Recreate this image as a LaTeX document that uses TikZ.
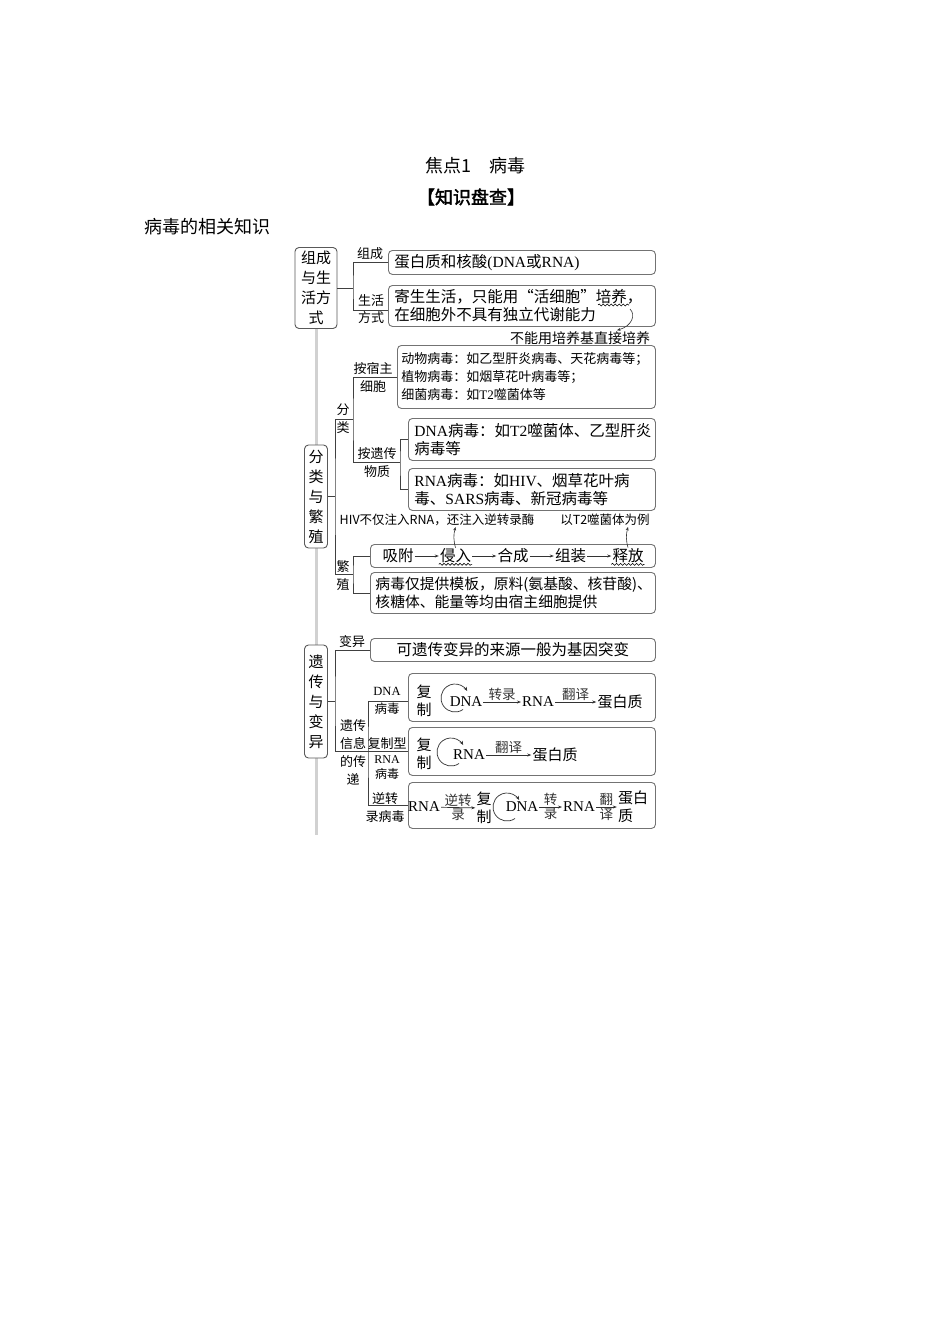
\documentclass[tikz,border=0pt]{standalone}
\usepackage{fontspec}
\newfontfamily\cjk[AutoFakeBold=2]{Noto Sans CJK SC}
\newfontfamily\engfont{Liberation Serif}
\newcommand{\eng}[1]{{\engfont #1}}
\usetikzlibrary{arrows.meta,calc,decorations.pathmorphing}
\tikzstyle{headtxt}=[inner sep=1pt,font=\cjk\fontsize{18}{20}\selectfont]
\tikzstyle{mainbox}=[draw=black!65,fill=white,rounded corners=4pt,line width=0.9pt,inner sep=2pt,align=center,font=\cjk\fontsize{15}{20}\selectfont]
\tikzstyle{infobox}=[draw=black!55,fill=white,rounded corners=4pt,line width=0.9pt,anchor=north west,inner xsep=6pt,inner ysep=0pt,align=left,font=\cjk\fontsize{15.5}{18}\selectfont]
\tikzstyle{tag}=[inner sep=0pt,align=center,font=\cjk\fontsize{13}{18}\selectfont]
\tikzstyle{link}=[draw,black!75,line width=0.9pt]
\tikzstyle{spine}=[draw,black!18,line width=3pt]
\tikzstyle{note}=[inner sep=1pt,font=\cjk\fontsize{12.5}{14}\selectfont]
\tikzstyle{notearrow}=[draw,black!80,line width=0.6pt,-{Stealth[length=3.5pt,width=3pt]}]
\tikzstyle{steptxt}=[inner sep=1pt,font=\cjk\fontsize{15.5}{18}\selectfont]
\tikzstyle{flowtxt}=[inner sep=1pt,align=center,font=\cjk\fontsize{15}{18}\selectfont]
\tikzstyle{flowlabel}=[inner sep=1pt,font=\cjk\fontsize{13.5}{14}\selectfont]
\tikzstyle{flowarrow}=[draw,black!80,line width=0.7pt,-{Stealth[length=4pt,width=3pt]}]
\tikzstyle{cyclearrow}=[draw,black!80,line width=0.7pt,-{Stealth[length=4pt,width=3.5pt]}]
\tikzstyle{wavy}=[draw,line width=0.6pt,decorate,decoration={snake,amplitude=1pt,segment length=4pt}]

\begin{document}
\begin{tikzpicture}[x=1pt,y=1pt]

  \path[fill=white] (0,0) rectangle (950,-1344);
  \useasboundingbox (0,0) rectangle (950,-1344);

  % headings
  \node[headtxt] (title) at (475,-166) {焦点1\hspace{1em}病毒};
  \node[headtxt,font=\cjk\bfseries\fontsize{18}{20}\selectfont] (sub) at (471,-197) {【知识盘查】};
  \node[headtxt,anchor=west] (topic) at (143,-227) {病毒的相关知识};

  % grey spine behind the main boxes
  \draw[spine] (316,-329) -- (316,-835);

  \foreach \pos/\name/\w/\h/\label in {{(316,-288)/m1/42pt/81pt/组成\\与生\\活方\\式}, {(316,-496.5)/m2/23pt/103pt/分\\类\\与\\繁\\殖}, {(316,-701.5)/m3/23pt/113pt/遗\\传\\与\\变\\异}}
    \node[mainbox,minimum width=\w,minimum height=\h] (\name) at \pos {\label};

  \foreach \pos/\name/\w/\h/\txt in {{(388,-250)/b1/255pt/24pt/{蛋白质和核酸\eng{(DNA}或\eng{RNA)}}}, {(388,-285)/b2/255pt/41pt/{寄生生活，只能用“活细胞”培养，\\在细胞外不具有独立代谢能力}}, {(408,-418)/b4/235pt/42pt/{\eng{DNA}病毒：如\eng{T2}噬菌体、乙型肝炎\\病毒等}}, {(408,-468)/b5/235pt/42pt/{\eng{RNA}病毒：如\eng{HIV}、烟草花叶病\\毒、\eng{SARS}病毒、新冠病毒等}}}
    \node[infobox,text width=\w,minimum height=\h] (\name) at \pos {\txt};

  \node[infobox,text width=250pt,inner xsep=4pt,minimum height=63pt,font=\cjk\fontsize{13}{18}\selectfont] (b3) at (397,-345) {动物病毒：如乙型肝炎病毒、天花病毒等；\\植物病毒：如烟草花叶病毒等；\\细菌病毒：如\eng{T2}噬菌体等};
  \node[infobox,text width=275pt,inner xsep=5pt,minimum height=41pt,font=\cjk\fontsize{14.8}{18}\selectfont] (b7) at (370,-572) {病毒仅提供模板，原料(氨基酸、核苷酸)、\\核糖体、能量等均由宿主细胞提供};
  \node[infobox,text width=273pt,minimum height=23pt] (b6) at (370,-544) {};
  \node[infobox,text width=273pt,minimum height=23pt,align=center] (b8) at (370,-638) {可遗传变异的来源一般为基因突变};
  \node[infobox,text width=235pt,minimum height=48pt] (b9) at (408,-673) {};
  \node[infobox,text width=235pt,minimum height=48pt] (b10) at (408,-727) {};
  \node[infobox,text width=235pt,minimum height=46pt] (b11) at (408,-782) {};

  % branch labels
  \foreach \pos/\name/\label in {{(370,-254)/tzc/组成}, {(371,-309)/tsh/生活\\[-1pt]方式}, {(343,-419)/tfl/分\\类}, {(373,-377.5)/tsz/按宿主\\细胞}, {(377,-462.5)/tyc/按遗传\\物质}, {(343,-576)/tfz/繁\\殖}, {(352,-642)/tby/变异}, {(353,-752)/tyx/遗传\\信息\\的传\\递}, {(387,-744)/tfzx/复制型}, {(385,-808)/tnz/逆转\\录病毒}}
    \node[tag] (\name) at \pos {\label};
  \node[tag,font=\cjk\fontsize{12.5}{18}\selectfont] (tdna) at (387,-701) {\eng{DNA}\\病毒};
  \node[tag,font=\cjk\fontsize{12}{15}\selectfont] (trna) at (387,-767.5) {\eng{RNA}\\病毒};

  % tree connectors
  \coordinate (k1) at (353,-288);
  \coordinate (k2) at (335,-496.5);
  \coordinate (c1) at (353,-419);
  \coordinate (c2) at (353,-574);
  \coordinate (c3) at (400,-462.5);
  \coordinate (k3) at (335,-701.5);
  \coordinate (c4) at (368,-751);

  \path[link] (m1.east) -- (k1);
  \path[link] (b1.west) -| (k1) |- ([yshift=-4pt]b2.west);
  \path[link] (m2.east) -- (k2);
  \path[link] (c1) -| (k2) |- (c2);
  \path[link] (b3.west) -| (c1) |- (c3);
  \path[link] (b4.west) -| (c3) |- (b5.west);
  \path[link] (b6.west) -| (c2) |- (b7.west);
  \path[link] (m3.east) -- (k3);
  \path[link] (b8.west) -| (k3) |- (b10.west);
  \path[link] ([yshift=-4pt]b9.west) -| (c4) |- (b11.west);

  % notes
  \node[note,font=\cjk\fontsize{14}{15}\selectfont] (ann1) at (580,-338) {不能用培养基直接培养};
  \node[note] (ann2) at (437,-520) {HIV不仅注入RNA，还注入逆转录酶};
  \node[note] (ann3) at (605,-520) {以T2噬菌体为例};

  % multiplication steps
  \foreach \x/\name/\label in {398/s1/吸附, 455.5/s2/侵入, 513/s3/合成, 570.5/s4/组装, 628/s5/释放}
    \node[steptxt] (\name) at (\x,-556) {\label};
  \foreach \source/\dest in {s1/s2, s2/s3, s3/s4, s4/s5}
    \path[flowarrow] (\source) -- (\dest);
  \foreach \name in {s2, s5}
    \path[wavy] (\name.south west) -- (\name.south east);

  % wavy mark under the culture words
  \coordinate (pya) at (598,-305);
  \coordinate (pyb) at (629,-305);
  \path[wavy] (pya) -- (pyb);
  \coordinate (py) at (630,-309);
  \path[notearrow] (py) .. controls (636,-315) and (632,-326) .. ([xshift=37pt]ann1.north);
  \path[notearrow] (s2.north) to[bend left=15] (s2.north |- ann2.south);
  \path[notearrow] (s5.north) to[bend left=15] (s5.north |- ann3.south);

  % DNA virus
  \node[flowtxt] (f1a) at (424,-701) {复\\制};
  \node[flowtxt] (f1b) at (466,-702) {\eng{DNA}};
  \node[flowtxt] (f1c) at (538,-702) {\eng{RNA}};
  \node[flowtxt] (f1d) at (620,-702) {蛋白质};
  \path[flowarrow] (f1b) -- node[flowlabel,above] {转录} (f1c);
  \path[flowarrow] (f1c) -- node[flowlabel,above] {翻译} (f1d);

  % RNA virus (replicating)
  \node[flowtxt] (f2a) at (424,-754) {复\\制};
  \node[flowtxt] (f2b) at (469,-755) {\eng{RNA}};
  \node[flowtxt] (f2c) at (555,-755) {蛋白质};
  \path[flowarrow] (f2b) -- node[flowlabel,above] {翻译} (f2c);

  % retrovirus
  \node[flowtxt] (f3a) at (424,-807) {\eng{RNA}};
  \node[flowtxt] (f3b) at (484,-808) {复\\制};
  \node[flowtxt] (f3c) at (522,-807) {\eng{DNA}};
  \node[flowtxt] (f3d) at (579,-807) {\eng{RNA}};
  \node[flowtxt,align=left] (f3e) at (633,-807) {蛋白\\质};
  \path[flowarrow] (f3a) -- node[flowlabel,above] {逆转} node[flowlabel,below] {录} (f3b);
  \path[flowarrow] (f3c) -- node[flowlabel,above] {转} node[flowlabel,below] {录} (f3d);
  \path[flowarrow] (f3d) -- node[flowlabel,above] {翻} node[flowlabel,below] {译} (f3e);

  % self-copy circles
  \foreach \pos in {(455,-698), (451,-752), (507,-807)}
    \path[cyclearrow] \pos ++(-55:14) arc[start angle=-55, end angle=-330, radius=14];

\end{tikzpicture}
\end{document}
